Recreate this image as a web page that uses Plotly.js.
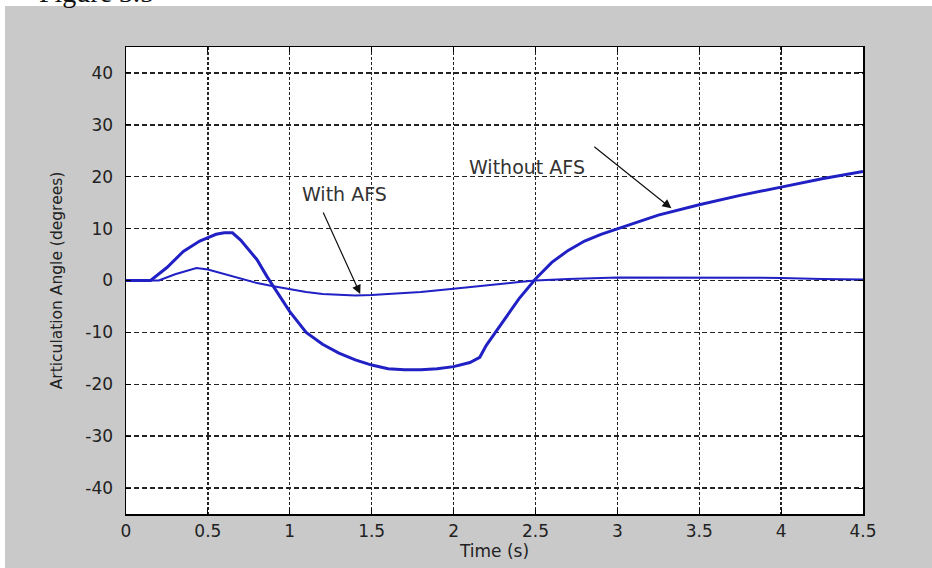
<!DOCTYPE html>
<html>
<head>
<meta charset="utf-8">
<script src="https://cdn.plot.ly/plotly-3.0.1.min.js"></script>
<style>
html,body{margin:0;padding:0;background:#fff;}
#chart{width:932px;height:568px;}
</style>
</head>
<body>
<div id="chart"></div>
<script>
// Time (s) and articulation angle (degrees)
var tWithout = [0, 0.15, 0.25, 0.35, 0.45, 0.5, 0.55, 0.6, 0.65, 0.7, 0.76, 0.8, 0.86, 0.9, 1.0, 1.1, 1.2, 1.3, 1.4, 1.5, 1.6, 1.7, 1.8, 1.9, 2.0, 2.1, 2.16, 2.2, 2.3, 2.4, 2.5, 2.6, 2.7, 2.8, 2.9, 3.0, 3.25, 3.5, 3.75, 4.0, 4.25, 4.5];
var vWithout = [0, 0, 2.5, 5.6, 7.6, 8.3, 8.9, 9.2, 9.2, 7.8, 5.6, 4.0, 0.8, -1.2, -6.0, -10.0, -12.3, -14.0, -15.3, -16.3, -17.0, -17.2, -17.2, -17.0, -16.6, -15.8, -14.8, -12.5, -8.0, -3.5, 0.3, 3.5, 5.8, 7.6, 8.9, 10.0, 12.6, 14.6, 16.4, 18.0, 19.6, 21.0];

var tWith = [0, 0.2, 0.3, 0.43, 0.5, 0.6, 0.7, 0.8, 0.9, 1.0, 1.1, 1.2, 1.3, 1.4, 1.5, 1.6, 1.8, 2.0, 2.2, 2.4, 2.5, 2.7, 3.0, 3.5, 4.0, 4.25, 4.5];
var vWith = [0, 0, 1.2, 2.4, 2.1, 1.2, 0.3, -0.5, -1.1, -1.7, -2.2, -2.6, -2.8, -2.9, -2.8, -2.6, -2.2, -1.6, -0.9, -0.3, 0, 0.3, 0.6, 0.6, 0.5, 0.3, 0.2];

var xTicks = [0, 0.5, 1, 1.5, 2, 2.5, 3, 3.5, 4, 4.5];
var xTickLabels = ['0', '0.5', '1', '1.5', '2', '2.5', '3', '3.5', '4', '4.5'];
var yTicks = [-40, -30, -20, -10, 0, 10, 20, 30, 40];
var yTickLabels = ['-40', '-30', '-20', '-10', '0', '10', '20', '30', '40'];

var lineColor = '#2020c4';
var traces = [
  {x: tWithout, y: vWithout, type: 'scatter', mode: 'lines', name: 'Without AFS',
   line: {color: lineColor, width: 3}},
  {x: tWith, y: vWith, type: 'scatter', mode: 'lines', name: 'With AFS',
   line: {color: lineColor, width: 2}}
];

var W = 932, H = 568, L = 126, R = 69, T = 47, B = 54;
var pw = W - L - R, ph = H - T - B;
function px(x) { return (x - L) / pw; }
function py(y) { return (H - B - y) / ph; }

var tickFont = {family: 'DejaVu Sans, sans-serif', size: 17, color: '#222'};
var xTitleFont = {family: 'DejaVu Sans, sans-serif', size: 17, color: '#222'};
var yTitleFont = {family: 'DejaVu Sans, sans-serif', size: 15.5, color: '#222'};
var annFont = {family: 'DejaVu Sans, sans-serif', size: 19, color: '#333'};

var layout = {
  width: W, height: H,
  margin: {l: L, r: R, t: T, b: B},
  paper_bgcolor: '#c9c9c9',
  plot_bgcolor: '#ffffff',
  showlegend: false,
  xaxis: {
    range: [0, 4.5], tickvals: xTicks, ticktext: xTickLabels,
    ticks: 'inside', ticklen: 5, tickcolor: '#000', showline: true, linecolor: '#000', linewidth: 1.5,
    mirror: 'ticks', showgrid: true, gridcolor: '#222', gridwidth: 1.4, griddash: '3px,2px',
    zeroline: false, tickfont: tickFont, ticklabelstandoff: 1,
    title: {text: 'Time (s)', font: xTitleFont, standoff: 0}
  },
  yaxis: {
    range: [-45, 45], tickvals: yTicks, ticktext: yTickLabels,
    ticks: 'inside', ticklen: 5, tickcolor: '#000', showline: true, linecolor: '#000', linewidth: 1.5,
    mirror: 'ticks', showgrid: true, gridcolor: '#222', gridwidth: 1.4, griddash: '5px,3px',
    zeroline: false, tickfont: tickFont, ticklabelstandoff: 8,
    title: {text: 'Articulation Angle (degrees)', font: yTitleFont, standoff: 19}
  },
  shapes: [
    {type: 'rect', xref: 'paper', yref: 'paper', layer: 'below', x0: px(0), x1: px(W), y0: py(6), y1: py(-2),
     fillcolor: '#ffffff', line: {width: 0}},
    {type: 'rect', xref: 'paper', yref: 'paper', layer: 'below', x0: px(-2), x1: px(5), y0: py(H + 2), y1: py(-2),
     fillcolor: '#ffffff', line: {width: 0}}
  ],
  annotations: [
    {xref: 'paper', yref: 'paper', x: px(37), y: py(10), xanchor: 'left', yanchor: 'bottom',
     text: 'Figure 3.5', showarrow: false,
     font: {family: 'Liberation Serif, Times New Roman, serif', size: 28, color: '#111'}},
    {x: 1.337, y: 16.6, xref: 'x', yref: 'y', text: 'With AFS', showarrow: false, font: annFont},
    {x: 2.45, y: 21.8, xref: 'x', yref: 'y', text: 'Without AFS', showarrow: false, font: annFont},
    {x: 1.43, y: -2.6, xref: 'x', yref: 'y', axref: 'x', ayref: 'y', ax: 1.2, ay: 13.4, text: '',
     showarrow: true, arrowhead: 2, arrowsize: 1.5, arrowwidth: 1.2, arrowcolor: '#111'},
    {x: 3.33, y: 13.9, xref: 'x', yref: 'y', axref: 'x', ayref: 'y', ax: 2.85, ay: 26.0, text: '',
     showarrow: true, arrowhead: 2, arrowsize: 1.5, arrowwidth: 1.2, arrowcolor: '#111'}
  ]
};

Plotly.newPlot('chart', traces, layout, {displayModeBar: false, staticPlot: true});
</script>
</body>
</html>
